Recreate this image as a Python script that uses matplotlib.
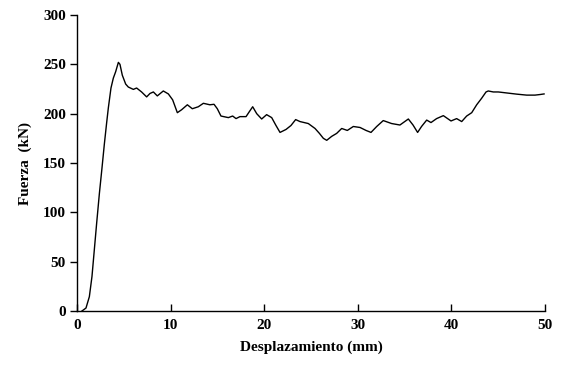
import numpy as np
import matplotlib
matplotlib.use("Agg")
import matplotlib.pyplot as plt

# displacement (mm)
desplazamiento = [0.53, 0.96, 1.32, 1.6, 1.85, 2.1, 2.39, 2.67, 2.92, 3.17, 3.35,
                  3.63, 3.88, 4.13, 4.42, 4.59, 4.84, 5.2, 5.48, 6.02, 6.37, 6.9,
                  7.44, 7.8, 8.16, 8.58,
                  9.22, 9.76, 10.22, 10.72, 11.18, 11.79, 12.32, 12.96, 13.5, 14.2,
                  14.64, 14.99, 15.38, 16.17, 16.63, 16.99, 17.41, 18.06, 18.41,
                  18.77, 19.2, 19.73, 20.26, 20.8, 21.26, 21.69, 22.33, 22.86, 23.36,
                  23.82, 24.71, 25.43, 25.9, 26.32, 26.68, 27.21, 27.74, 28.28, 28.88,
                  29.52, 30.24, 30.88, 31.41, 32.02, 32.72, 33.61, 34.5, 35.4, 35.9,
                  36.39, 36.81, 37.36, 37.82, 38.42, 39.14, 39.96, 40.56, 41.1, 41.63,
                  42.17, 42.7, 43.23, 43.7, 43.94, 44.48, 45.01, 45.9, 46.97, 48.04,
                  48.93, 49.47, 49.9]
# force (kN)
fuerza = [0, 3, 14.5, 35, 62, 89, 119, 145, 169, 191, 206,
          226, 236, 242.5, 252, 250, 239, 230, 227, 224.6, 226, 222,
          217, 220.5, 222, 218,
          223, 220, 214, 201, 204, 209, 205, 207, 210.5, 209,
          209.5, 205, 197.6, 196, 197.6, 195, 197, 197, 202,
          207, 200, 194.6, 199, 196, 188, 181, 184, 188, 194,
          192, 190, 185, 180, 175, 173, 177, 180, 185, 183,
          187, 186, 183, 181, 187, 193, 190, 188.5, 194.6, 188.5,
          181, 187, 193.5, 191, 195, 198, 192.6, 195, 192, 197.6,
          201, 209, 215.6, 222, 223, 222, 222, 221, 219.8, 218.8,
          218.8, 219.4, 220]

x_ticks = [0, 10, 20, 30, 40, 50]
y_ticks = [0, 50, 100, 150, 200, 250, 300]

plt.rcParams['font.family'] = ['Liberation Serif', 'DejaVu Serif']
plt.rcParams['font.weight'] = 'bold'

fig = plt.figure(figsize=(5.67, 3.78), dpi=100)
ax = fig.add_axes([77/567, 67/378, 468/567, 296/378])

ax.plot(desplazamiento, fuerza, color='black', lw=1.0)

ax.set_xlim(0, 50)
ax.set_ylim(0, 300)
ax.set_xticks(x_ticks)
ax.set_yticks(y_ticks)
ax.tick_params(axis='x', direction='in', length=5, width=1, labelsize=11, pad=6)
ax.tick_params(axis='y', direction='out', length=5, width=1, labelsize=11, pad=3)
for lab in ax.get_xticklabels() + ax.get_yticklabels():
    lab.set_fontweight('bold')

ax.spines['top'].set_visible(False)
ax.spines['right'].set_visible(False)
ax.spines['left'].set_linewidth(1)
ax.spines['bottom'].set_linewidth(1)

ax.set_xlabel('Desplazamiento (mm)', fontsize=11, fontweight='bold', labelpad=6)
ax.set_ylabel('Fuerza  (kN)', fontsize=11, fontweight='bold', labelpad=8)

fig.savefig('out.png', dpi=100)
